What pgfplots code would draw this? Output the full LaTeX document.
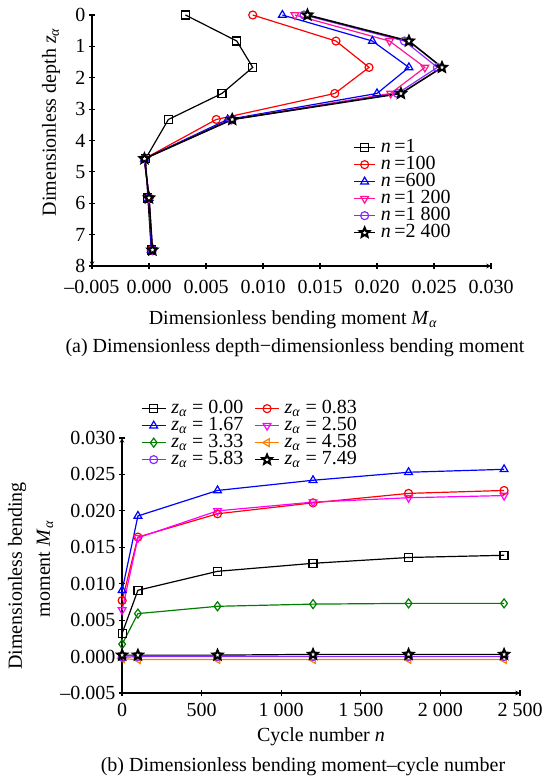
\documentclass[border=0pt]{standalone}
\usepackage{pgfplots}
\usepackage{pgfplotstable}
\pgfplotsset{compat=1.18}
\usepackage{fontspec}
\setmainfont{Liberation Serif}
\usetikzlibrary{plotmarks}

\definecolor{cRed}{RGB}{255,0,0}
\definecolor{cBlue}{RGB}{0,0,255}
\definecolor{cPink}{RGB}{255,20,147}
\definecolor{cMag}{RGB}{255,0,255}
\definecolor{cPur}{RGB}{140,40,255}
\definecolor{cGreen}{RGB}{0,128,0}
\definecolor{cOrange}{RGB}{255,128,0}

\pgfdeclareplotmark{fstar}{%
  \pgfpathmoveto{\pgfpointpolar{90}{\pgfplotmarksize}}%
  \pgfpathlineto{\pgfpointpolar{126}{0.45\pgfplotmarksize}}%
  \pgfpathlineto{\pgfpointpolar{162}{\pgfplotmarksize}}%
  \pgfpathlineto{\pgfpointpolar{198}{0.45\pgfplotmarksize}}%
  \pgfpathlineto{\pgfpointpolar{234}{\pgfplotmarksize}}%
  \pgfpathlineto{\pgfpointpolar{270}{0.45\pgfplotmarksize}}%
  \pgfpathlineto{\pgfpointpolar{306}{\pgfplotmarksize}}%
  \pgfpathlineto{\pgfpointpolar{342}{0.45\pgfplotmarksize}}%
  \pgfpathlineto{\pgfpointpolar{18}{\pgfplotmarksize}}%
  \pgfpathlineto{\pgfpointpolar{54}{0.45\pgfplotmarksize}}%
  \pgfpathclose
  \pgfusepathqfillstroke
}

% top chart: rows = depth z, columns = cycle number n
\pgfplotstableread{
z     n1      n100    n600    n1200   n1800   n2400
0     0.0032  0.0091  0.0117  0.0128  0.0136  0.0139
0.83  0.0077  0.0164  0.0196  0.0211  0.0224  0.0228
1.67  0.0091  0.0193  0.0228  0.0242  0.0253  0.0257
2.50  0.0064  0.0163  0.0200  0.0212  0.0218  0.0221
3.33  0.0017  0.0059  0.0069  0.0072  0.0073  0.0073
4.58  -0.0003 -0.0004 -0.0004 -0.0004 -0.0004 -0.0004
5.83  -0.0001 0.0000  0.0000  0.0000  0.0000  0.0000
7.49  0.0002  0.0002  0.0002  0.0003  0.0003  0.0003
}\depthtable

% bottom chart: rows = cycle number n, columns = depth z
\pgfplotstableread{
n     z000    z083    z167    z250    z333    z458    z583    z749
1     0.0032  0.0077  0.0091  0.0064  0.0017  -0.0003 -0.0001 0.0002
100   0.0091  0.0164  0.0193  0.0163  0.0059  -0.0004 0.0000  0.0002
600   0.0117  0.0196  0.0228  0.0200  0.0069  -0.0004 0.0000  0.0002
1200  0.0128  0.0211  0.0242  0.0212  0.0072  -0.0004 0.0000  0.0003
1800  0.0136  0.0224  0.0253  0.0218  0.0073  -0.0004 0.0000  0.0003
2400  0.0139  0.0228  0.0257  0.0221  0.0073  -0.0004 0.0000  0.0003
}\cycletable

\pgfplotsset{
  every axis/.append style={font=\fontsize{20}{24}\selectfont},
  myaxis/.style={
    scale only axis, anchor=south west, clip=false,
    scaled x ticks=false, scaled y ticks=false,
    axis line style={-, line width=1.1pt, black},
    tick style={line width=1.1pt, black},
    major tick length=6pt, tick align=inside,
    every tick label/.append style={font=\fontsize{20}{24}\selectfont},
    legend style={draw=none, fill=none, font=\fontsize{20}{24}\selectfont,
      nodes={inner xsep=5pt, inner ysep=0pt, text height=13pt, text depth=4pt}},
    legend cell align=left,
  },
  every axis plot/.append style={line width=1.2pt, mark size=4pt,
    mark options={solid, fill=white}},
}

\begin{document}
\begin{tikzpicture}[font=\fontsize{20}{24}\selectfont]
\useasboundingbox (0,0) rectangle (545pt,780pt);

% ---------------- (a) ----------------
\begin{axis}[myaxis,
  at={(92pt,514pt)}, width=399pt, height=251pt,
  xmin=-0.005, xmax=0.030, ymin=0, ymax=8, y dir=reverse,
  axis x line=bottom, axis y line=left,
  xtick={-0.005,0,0.005,0.01,0.015,0.02,0.025,0.03},
  xticklabels={–0.005,0.000,0.005,0.010,0.015,0.020,0.025,0.030},
  xticklabel style={yshift=-8pt},
  ytick={0,1,2,3,4,5,6,7,8},
  yticklabels={0,1,2,3,4,5,6,7,8},
  legend image code/.code={\draw[mark repeat=2,mark phase=2] plot coordinates {(0pt,0pt) (10.5pt,0pt) (21pt,0pt)};},
  legend style={at={(0.647,0.514)}, anchor=north west},
]
\addplot[black, mark=square] table[x=n1, y=z] {\depthtable};
\addlegendentry{\textit{n}\,=1}
\addplot[cRed, mark=o] table[x=n100, y=z] {\depthtable};
\addlegendentry{\textit{n}\,=100}
\addplot[cBlue, mark=triangle, mark size=4.5pt] table[x=n600, y=z] {\depthtable};
\addlegendentry{\textit{n}\,=600}
\addplot[cPink, mark=triangle, mark size=4.5pt, mark options={rotate=180}] table[x=n1200, y=z] {\depthtable};
\addlegendentry{\textit{n}\,=1 200}
\addplot[cPur, mark=o] table[x=n1800, y=z] {\depthtable};
\addlegendentry{\textit{n}\,=1 800}
\addplot[black, line width=1.6pt, mark=fstar, mark size=5pt, mark options={fill=white, line width=2pt}] table[x=n2400, y=z] {\depthtable};
\addlegendentry{\textit{n}\,=2 400}
\end{axis}

% ---------------- (b) ----------------
\begin{axis}[myaxis,
  at={(122pt,87pt)}, width=398pt, height=255pt,
  xmin=0, xmax=2500, ymin=-0.005, ymax=0.030,
  axis lines=left,
  xtick={0,500,1000,1500,2000,2500},
  xticklabels={0,500,1 000,1 500,2 000,2 500},
  xticklabel style={yshift=-4pt},
  ytick={-0.005,0,0.005,0.01,0.015,0.02,0.025,0.03},
  yticklabels={–0.005,0.000,0.005,0.010,0.015,0.020,0.025,0.030},
  legend columns=2,
  legend image code/.code={\draw[mark repeat=2,mark phase=2] plot coordinates {(0pt,0pt) (12pt,0pt) (24pt,0pt)};},
  legend style={at={(0.04,1.157)}, anchor=north west,
    /tikz/every even column/.append style={column sep=6pt}},
]
\addplot[black, mark=square] table[x=n, y=z000] {\cycletable};
\addlegendentry{\textit{z}\textsubscript{\textit{α}} = 0.00}
\addplot[cRed, mark=o] table[x=n, y=z083] {\cycletable};
\addlegendentry{\textit{z}\textsubscript{\textit{α}} = 0.83}
\addplot[cBlue, mark=triangle, mark size=4.5pt] table[x=n, y=z167] {\cycletable};
\addlegendentry{\textit{z}\textsubscript{\textit{α}} = 1.67}
\addplot[cMag, mark=triangle, mark size=4.5pt, mark options={rotate=180}] table[x=n, y=z250] {\cycletable};
\addlegendentry{\textit{z}\textsubscript{\textit{α}} = 2.50}
\addplot[cGreen, mark=diamond, mark size=4.5pt] table[x=n, y=z333] {\cycletable};
\addlegendentry{\textit{z}\textsubscript{\textit{α}} = 3.33}
\addplot[cOrange, mark=triangle, mark size=4.5pt, mark options={rotate=90}] table[x=n, y=z458] {\cycletable};
\addlegendentry{\textit{z}\textsubscript{\textit{α}} = 4.58}
\addplot[cPur, mark=o] table[x=n, y=z583] {\cycletable};
\addlegendentry{\textit{z}\textsubscript{\textit{α}} = 5.83}
\addplot[black, mark=fstar, mark size=5pt, mark options={fill=white, line width=2pt}] table[x=n, y=z749] {\cycletable};
\addlegendentry{\textit{z}\textsubscript{\textit{α}} = 7.49}
\end{axis}

% ---------------- labels ----------------
\node[rotate=90] at (51pt,658pt) {Dimensionless depth \textit{z}\textsubscript{\textit{α}}};
\node at (293pt,460pt) {Dimensionless bending moment \textit{M}\textsubscript{\textit{α}}};
\node at (295pt,432pt) {(a) Dimensionless depth−dimensionless bending moment};
\node[rotate=90] at (17pt,204pt) {Dimensionless bending};
\node[rotate=90] at (45pt,211pt) {moment \textit{M}\textsubscript{\textit{α}}};
\node at (321pt,43pt) {Cycle number \textit{n}};
\node at (303pt,13pt) {(b) Dimensionless bending moment–cycle number};
\end{tikzpicture}
\end{document}
